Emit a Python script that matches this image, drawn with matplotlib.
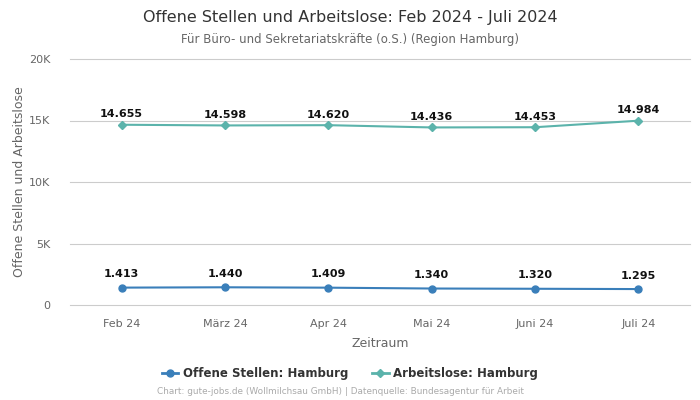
import matplotlib
matplotlib.use("Agg")
import matplotlib.pyplot as plt
from matplotlib.ticker import FuncFormatter
from matplotlib.lines import Line2D

monate = ['Feb 24', 'März 24', 'Apr 24', 'Mai 24', 'Juni 24', 'Juli 24']
offene_stellen = [1413, 1440, 1409, 1340, 1320, 1295]
arbeitslose = [14655, 14598, 14620, 14436, 14453, 14984]

farbe_os = '#3a7fba'
farbe_al = '#5bb3ab'

def de_zahl(v):
    return f'{v:,}'.replace(',', '.')

fig = plt.figure(figsize=(7, 4), dpi=100)
ax = fig.add_axes([0.1, 0.2375, 0.8857, 0.615])

x = list(range(len(monate)))
ax.plot(x, offene_stellen, color=farbe_os, lw=1.5, marker='o', ms=5, zorder=3)
ax.plot(x, arbeitslose, color=farbe_al, lw=1.5, marker='D', ms=4, zorder=3)

for i, v in enumerate(offene_stellen):
    ax.annotate(de_zahl(v), (i, v), xytext=(0, 6), textcoords='offset points',
                ha='center', va='bottom', fontsize=8, fontweight='bold', color='#111111')
for i, v in enumerate(arbeitslose):
    ax.annotate(de_zahl(v), (i, v), xytext=(0, 4), textcoords='offset points',
                ha='center', va='bottom', fontsize=8, fontweight='bold', color='#111111')

ax.set_xlim(-0.5, len(monate) - 0.5)
ax.set_ylim(0, 20000)
ax.set_yticks([0, 5000, 10000, 15000, 20000])
ax.yaxis.set_major_formatter(FuncFormatter(lambda v, p: '0' if v == 0 else f'{int(v/1000)}K'))
ax.set_xticks(x)
ax.set_xticklabels(monate)
ax.tick_params(axis='both', length=0, labelsize=8, colors='#666666')
ax.tick_params(axis='x', pad=10)
ax.tick_params(axis='y', pad=14)
ax.grid(axis='y', color='#cccccc', lw=0.8)
for gl in ax.get_ygridlines():
    gl.set_clip_on(False)
ax.set_axisbelow(True)
for s in ax.spines.values():
    s.set_visible(False)

ax.set_xlabel('Zeitraum', fontsize=9, color='#666666', labelpad=6)
ax.set_ylabel('Offene Stellen und Arbeitslose', fontsize=9, color='#666666', labelpad=2)

fig.text(0.5, 0.957, 'Offene Stellen und Arbeitslose: Feb 2024 - Juli 2024',
         ha='center', va='center', fontsize=11.5, color='#333333')
fig.text(0.5, 0.902, 'Für Büro- und Sekretariatskräfte (o.S.) (Region Hamburg)',
         ha='center', va='center', fontsize=8.5, color='#666666')

handles = [Line2D([], [], color=farbe_os, marker='o', ms=5, lw=2),
           Line2D([], [], color=farbe_al, marker='D', ms=4, lw=2)]
fig.legend(handles, ['Offene Stellen: Hamburg', 'Arbeitslose: Hamburg'],
           loc='center', bbox_to_anchor=(0.5, 0.067), ncol=2, frameon=False,
           prop={'size': 8.5, 'weight': 'bold'}, labelcolor='#333333',
           handlelength=1.4, columnspacing=2.0, handletextpad=0.4)

fig.text(0.486, 0.02, 'Chart: gute-jobs.de (Wollmilchsau GmbH) | Datenquelle: Bundesagentur für Arbeit',
         ha='center', va='center', fontsize=6.4, color='#aaaaaa')

fig.savefig('out.png', dpi=100)
